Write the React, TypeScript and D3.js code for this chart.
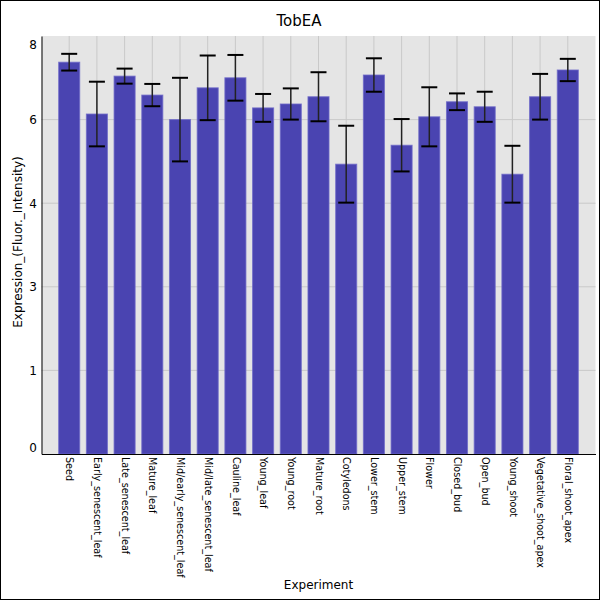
import React from 'react';
import { select, scaleLinear, scalePoint, axisLeft, axisBottom } from 'd3';

const tissues = [
  'Seed', 'Early_senescent_leaf', 'Late_senescent_leaf', 'Mature_leaf',
  'Mid/early_senescent_leaf', 'Mid/late_senescent_leaf', 'Cauline_leaf',
  'Young_leaf', 'Young_root', 'Mature_root', 'Cotyledons', 'Lower_stem',
  'Upper_stem', 'Flower', 'Closed_bud', 'Open_bud', 'Young_shoot',
  'Vegetative_shoot_apex', 'Floral_shoot_apex',
];
const expression = [
  7.03, 6.10, 6.78, 6.44, 6.00, 6.57, 6.75, 6.21, 6.28, 6.41,
  5.20, 6.80, 5.54, 6.05, 6.32, 6.23, 5.02, 6.41, 6.89,
];
const stdError = [
  0.15, 0.58, 0.135, 0.20, 0.75, 0.58, 0.41, 0.25, 0.28, 0.44,
  0.69, 0.30, 0.47, 0.53, 0.15, 0.27, 0.51, 0.41, 0.20,
];
const yTickValues = [0, 1.5, 3, 4.5, 6, 7.5];
const yTickLabels = ['0', '1', '3', '4', '6', '8'];
const yGridValues = [1.5, 3, 4.5, 6];

const dims = {
  width: 600,
  height: 600,
  left: 41.5,
  right: 595.5,
  top: 36,
  bottom: 454,
};

const App: React.FC = () => {
  const svgRef = React.useRef<SVGSVGElement>(null);

  React.useEffect(() => {
    const svg = select(svgRef.current);
    svg.selectAll('*').remove();

    const x = scalePoint<string>()
      .domain(tissues)
      .range([dims.left, dims.right])
      .padding(1);
    const y = scaleLinear()
      .domain([0, 7.5])
      .range([dims.bottom, dims.top]);
    const barW = x.step() * 0.76;

    // outer frame
    svg.append('rect')
      .attr('x', 0.5).attr('y', 0.5)
      .attr('width', dims.width - 1).attr('height', dims.height - 1)
      .attr('fill', '#ffffff').attr('stroke', '#000000');

    svg.append('rect')
      .attr('x', dims.left).attr('y', dims.top)
      .attr('width', dims.right - dims.left)
      .attr('height', dims.bottom - dims.top)
      .attr('fill', '#e5e5e5');

    // grid
    svg.append('g')
      .selectAll('line')
      .data(yGridValues)
      .join('line')
      .attr('x1', dims.left).attr('x2', dims.right)
      .attr('y1', d => y(d)).attr('y2', d => y(d))
      .attr('stroke', '#c9c9c9').attr('stroke-width', 1);
    svg.append('g')
      .selectAll('line')
      .data(tissues)
      .join('line')
      .attr('x1', d => x(d)).attr('x2', d => x(d))
      .attr('y1', dims.top).attr('y2', dims.bottom)
      .attr('stroke', '#c9c9c9').attr('stroke-width', 1);

    // bars
    svg.append('g')
      .selectAll('rect')
      .data(tissues)
      .join('rect')
      .attr('x', d => x(d) - barW / 2)
      .attr('width', barW)
      .attr('y', (d, i) => y(expression[i]))
      .attr('height', (d, i) => y(0) - y(expression[i]))
      .attr('fill', '#4a44b1')
      .attr('stroke', 'rgba(110,105,200,0.8)')
      .attr('stroke-width', 1);

    // error bars
    const err = svg.append('g');
    tissues.forEach((t, i) => {
      const cx = x(t);
      const hi = y(expression[i] + stdError[i]);
      const lo = y(expression[i] - stdError[i]);
      err.append('line')
        .attr('x1', cx).attr('x2', cx).attr('y1', hi).attr('y2', lo)
        .attr('stroke', '#222').attr('stroke-width', 1.5);
      [hi, lo].forEach(yy => {
        err.append('line')
          .attr('x1', cx - 8).attr('x2', cx + 8).attr('y1', yy).attr('y2', yy)
          .attr('stroke', '#000').attr('stroke-width', 2);
      });
    });

    // axes
    const yAxis = axisLeft(y)
      .tickValues(yTickValues)
      .tickSize(0)
      .tickSizeOuter(0)
      .tickPadding(4.5)
      .tickFormat((d, i) => yTickLabels[i]);
    const yG = svg.append('g')
      .attr('transform', `translate(${dims.left},0)`)
      .call(yAxis);
    yG.select('.domain').attr('stroke', '#000').attr('stroke-width', 1);
    yG.selectAll('text')
      .attr('font-family', 'DejaVu Sans')
      .attr('font-size', 12)
      .attr('fill', '#000')
      .attr('dy', (d, i) => (i === 0 ? '-0.18em' : i === yTickValues.length - 1 ? '1em' : '0.32em'));

    const xAxis = axisBottom(x).tickSize(0).tickSizeOuter(0);
    const xG = svg.append('g')
      .attr('transform', `translate(0,${dims.bottom})`)
      .call(xAxis);
    xG.select('.domain').attr('stroke', '#000').attr('stroke-width', 1);
    xG.selectAll('text')
      .attr('font-family', 'DejaVu Sans')
      .attr('font-size', 9.6)
      .attr('fill', '#000')
      .attr('transform', 'rotate(90)')
      .attr('x', 3)
      .attr('y', 0)
      .attr('dy', '0.35em')
      .attr('text-anchor', 'start');

    // titles
    svg.append('text')
      .attr('x', 299).attr('y', 26)
      .attr('text-anchor', 'middle')
      .attr('font-family', 'DejaVu Sans')
      .attr('font-size', 15)
      .text('TobEA');
    svg.append('text')
      .attr('x', (dims.left + dims.right) / 2).attr('y', 589)
      .attr('text-anchor', 'middle')
      .attr('font-family', 'DejaVu Sans')
      .attr('font-size', 12)
      .text('Experiment');
    svg.append('text')
      .attr('transform', 'translate(22,242) rotate(-90)')
      .attr('text-anchor', 'middle')
      .attr('font-family', 'DejaVu Sans')
      .attr('font-size', 12)
      .text('Expression_(Fluor._Intensity)');
  }, []);

  return (
    <svg
      ref={svgRef}
      width={dims.width}
      height={dims.height}
      style={{ position: 'absolute', top: 0, left: 0 }}
    />
  );
};

export default App;
